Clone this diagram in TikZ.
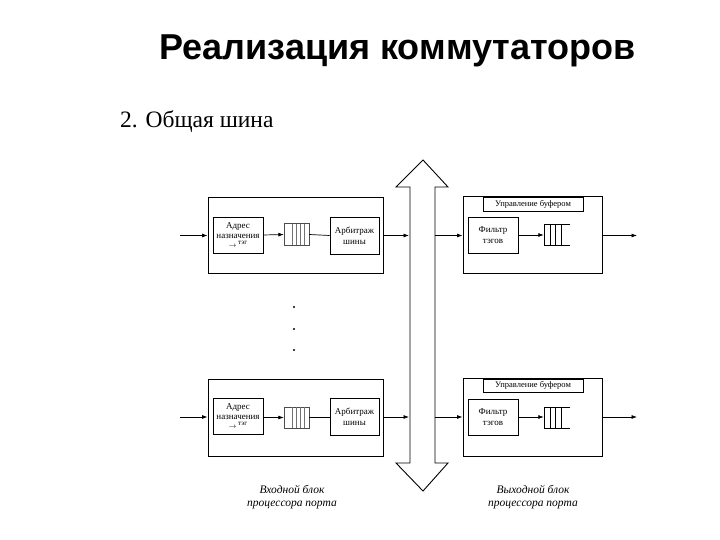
\documentclass[tikz,border=0pt]{standalone}
\usepackage{fontspec}
\setmainfont{Liberation Serif}
\newfontfamily\titlefont{Liberation Sans}
\usetikzlibrary{arrows.meta}
\begin{document}
\begin{tikzpicture}[x=1pt,y=-1pt,
  outerbox/.style={draw, line width=0.9pt, inner sep=0pt},
  innerbox/.style={draw, line width=0.6pt, inner sep=0pt, align=center, font=\fontsize{9}{11}\selectfont},
  hdrbox/.style={draw, line width=0.6pt, inner sep=0pt, font=\fontsize{8.5}{10}\selectfont},
  slot/.style={inner sep=0pt},
  conn/.style={line width=0.7pt, -{Latex[length=5.5pt,width=4pt]}},
  plain/.style={line width=0.7pt},
  captext/.style={font=\itshape\fontsize{11.5}{12.5}\selectfont, align=center}
]
\useasboundingbox (0,0) rectangle (720,540);

% title
\node[anchor=base, font=\titlefont\bfseries\fontsize{36}{40}\selectfont, inner sep=0pt] (title) at (397.5,60) {Реализация коммутаторов};
\node[anchor=base west, font=\fontsize{23.5}{26}\selectfont, inner sep=0pt] (subtitle) at (120,128) {2. Общая шина};

% bus (double arrow)
\draw[line width=0.9pt, fill=white] (410,187) -- (396,187) -- (423,160) -- (448,187) -- (435,187)
  -- (435,463) -- (448,463) -- (423,491) -- (396,463) -- (410,463) -- cycle;
\coordinate (busLtop) at (409,235.5);
\coordinate (busRtop) at (435,235.5);
\coordinate (busLbot) at (409,417);
\coordinate (busRbot) at (435,417);

% free ends
\coordinate (inTop) at (180,235.5);
\coordinate (inBot) at (180,417);
\coordinate (outTop) at (637,235.5);
\coordinate (outBot) at (637,417);

% ---------- left top ----------
\node[outerbox, minimum width=175, minimum height=76] (loT) at (295.5,235) {};
\node[innerbox, minimum width=50, minimum height=36] (addrT) at (238,235) {Адрес\\[-1.5pt]назначения\\[-2pt]{\scriptsize$\rightarrow$}\,\raisebox{2.5pt}{\fontsize{7}{7}\selectfont тэг}};
\node[slot, minimum width=25, minimum height=21] (qT) at (296.5,234.5) {};
\node[innerbox, minimum width=49, minimum height=37] (arbT) at (354.5,235.5) {Арбитраж\\шины};

% ---------- left bottom ----------
\node[outerbox, minimum width=175, minimum height=77] (loB) at (295.5,417.5) {};
\node[innerbox, minimum width=50, minimum height=36] (addrB) at (238,416) {Адрес\\[-1.5pt]назначения\\[-2pt]{\scriptsize$\rightarrow$}\,\raisebox{2.5pt}{\fontsize{7}{7}\selectfont тэг}};
\node[slot, minimum width=25, minimum height=21] (qB) at (296.5,417.5) {};
\node[innerbox, minimum width=49, minimum height=37] (arbB) at (354.5,416.5) {Арбитраж\\шины};

% left queues
\foreach \q in {qT,qB}{
  \draw[line width=0.6pt, black!70] (\q.north west) rectangle (\q.south east);
  \foreach \dx in {8,12,16,20}{
    \draw[line width=0.5pt, black!55] ([xshift=\dx pt]\q.north west) -- ([xshift=\dx pt]\q.south west);
  }
}

% ---------- right top ----------
\node[outerbox, minimum width=139, minimum height=77] (roT) at (532.5,234.5) {};
\node[hdrbox, minimum width=100, minimum height=14] (hdrT) at (533,204) {Управление буфером};
\node[innerbox, minimum width=50, minimum height=36] (filT) at (493,235) {Фильтр\\тэгов};
\node[slot, minimum width=26, minimum height=21] (rqT) at (557,235) {};

% ---------- right bottom ----------
\node[outerbox, minimum width=139, minimum height=78] (roB) at (532.5,417) {};
\node[hdrbox, minimum width=100, minimum height=13] (hdrB) at (533,385.5) {Управление буфером};
\node[innerbox, minimum width=50, minimum height=36] (filB) at (493,417) {Фильтр\\тэгов};
\node[slot, minimum width=26, minimum height=21] (rqB) at (557,417.5) {};

% right queues (open on the right)
\foreach \q in {rqT,rqB}{
  \draw[line width=0.6pt] (\q.north east) -- (\q.north west) -- (\q.south west) -- (\q.south east);
  \foreach \dx in {6,11,17}{
    \draw[line width=0.6pt] ([xshift=\dx pt]\q.north west) -- ([xshift=\dx pt]\q.south west);
  }
}

% connectors top
\draw[conn] (inTop) -- (inTop -| loT.west);
\draw[conn] (addrT.east) -- (qT.west);
\draw[plain] (qT.east) -- (arbT.west);
\draw[conn] (loT.east |- busLtop) -- (busLtop);
\draw[conn] (busRtop) -- (busRtop -| roT.west);
\draw[conn] (filT.east) -- (rqT.west |- filT.east);
\draw[conn] (roT.east |- outTop) -- (outTop);

% connectors bottom
\draw[conn] (inBot) -- (inBot -| loB.west);
\draw[conn] (addrB.east |- qB.west) -- (qB.west);
\draw[plain] (qB.east) -- (arbB.west |- qB.east);
\draw[conn] (loB.east |- busLbot) -- (busLbot);
\draw[conn] (busRbot) -- (busRbot -| roB.west);
\draw[conn] (filB.east) -- (rqB.west |- filB.east);
\draw[conn] (roB.east |- outBot) -- (outBot);

% dots
\foreach \yy [count=\i] in {307,329,350}{
  \fill (294,\yy) circle (1.1) coordinate (dot\i);
}

% captions
\node[captext] (capL) at (292,497) {Входной блок\\процессора порта};
\node[captext] (capR) at (533,497) {Выходной блок\\процессора порта};
\end{tikzpicture}
\end{document}
